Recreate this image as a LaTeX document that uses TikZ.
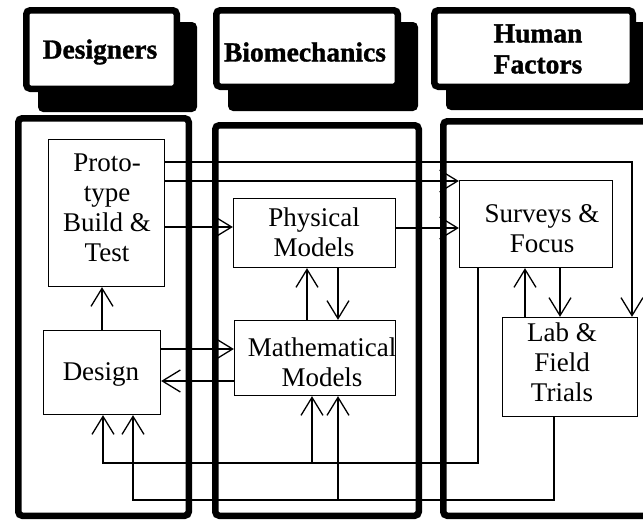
\documentclass[tikz,border=0pt]{standalone}
\usepackage{fontspec}
\setmainfont{Liberation Serif}
\newfontfamily\heavyfont{Liberation Serif Bold}[FakeBold=1.2]
\usetikzlibrary{arrows.meta}
\begin{document}
\begin{tikzpicture}[x=1pt,y=-1pt,
  hdrbox/.style={draw=black,fill=white,line width=6.5pt,rounded corners=4pt,inner sep=0pt},
  shadowbox/.style={fill=black,rounded corners=5pt},
  colbox/.style={draw=black,line width=6.5pt,rounded corners=4pt},
  innerbox/.style={draw=black,line width=1.3pt,inner sep=0pt},
  boxtext/.style={align=center,font=\fontsize{27}{30}\selectfont,inner sep=0pt},
  hdrtext/.style={align=center,font=\heavyfont\fontsize{27.5}{31}\selectfont},
  conn/.style={line width=1.3pt},
  arr/.style={conn,-{Straight Barb[length=18pt,width=22pt]}}]
\clip (0,0) rectangle (643,522);
% header shadows
\fill[shadowbox] (38,22) rectangle (197,112);
\fill[shadowbox] (228,22) rectangle (418,111);
\fill[shadowbox] (446,22) rectangle (660,110);
% header boxes
\node[hdrbox,minimum width=150.5pt,minimum height=78.5pt] (designers) at (101.5,49.5) {};
\node[hdrbox,minimum width=181.5pt,minimum height=76.5pt] (biomech) at (307,48.5) {};
\node[hdrbox,minimum width=198.5pt,minimum height=76.5pt] (human) at (533.5,48.5) {};
\node[hdrtext] (designerstext) at (100,52) {Designers};
\node[hdrtext] (biomechtext) at (305,52) {Biomechanics};
\node[hdrtext] (humantext) at (538,49) {Human\\Factors};
% columns
\draw[colbox] (18.25,118.25) rectangle (188.75,515.75);
\draw[colbox] (215.25,125.25) rectangle (418.75,515.75);
\draw[colbox] (443.25,121.25) rectangle (660,515.75);
% inner boxes
\node[innerbox,minimum width=116pt,minimum height=147pt] (proto) at (106.5,213) {};
\node[innerbox,minimum width=117pt,minimum height=84pt] (design) at (102,372.5) {};
\node[innerbox,minimum width=162pt,minimum height=69pt] (physical) at (314.5,233) {};
\node[innerbox,minimum width=161pt,minimum height=75pt] (math) at (315,358) {};
\node[innerbox,minimum width=153pt,minimum height=87pt] (surveys) at (536,224) {};
\node[innerbox,minimum width=135pt,minimum height=99pt] (lab) at (570,367) {};
\node[boxtext] (prototext) at (107,208) {Proto-\\type\\Build \&\\Test};
\node[boxtext] (designtext) at (101,374) {Design};
\node[boxtext] (physicaltext) at (314,232) {Physical\\Models};
\node[boxtext] (mathtext) at (322,362) {Mathematical\\Models};
\node[boxtext] (surveystext) at (542,229) {Surveys \&\\Focus};
\node[boxtext] (labtext) at (562,362) {Lab \&\\Field\\Trials};
% connectors
\draw[arr] (design.north) -- (proto.south -| design.north);
\draw[arr] (proto.east |- 0,162) -| (lab.north -| 632,0);
\draw[arr] (proto.east |- 0,181) -- (surveys.west |- 0,181);
\draw[arr] (proto.east |- 0,227) -- (physical.west |- 0,227);
\draw[arr] (physical.east |- 0,228) -- (surveys.west |- 0,228);
\draw[arr] (math.north -| 307,0) -- (physical.south -| 307,0);
\draw[arr] (physical.south -| 338,0) -- (math.north -| 338,0);
\draw[arr] (design.east |- 0,349) -- (math.west |- 0,349);
\draw[arr] (math.west |- 0,381) -- (design.east |- 0,381);
\draw[arr] (lab.north -| 525,0) -- (surveys.south -| 525,0);
\draw[arr] (surveys.south -| 560,0) -- (lab.north -| 560,0);
\coordinate (ja) at (312,463);
\coordinate (jb) at (338,500);
\draw[arr] (surveys.south -| 478,0) |- (103,463) -- (design.south -| 103,0);
\draw[arr] (ja) -- (math.south -| ja);
\draw[arr] (lab.south -| 554,0) |- (133,500) -- (design.south -| 133,0);
\draw[arr] (jb) -- (math.south -| jb);
\end{tikzpicture}
\end{document}
